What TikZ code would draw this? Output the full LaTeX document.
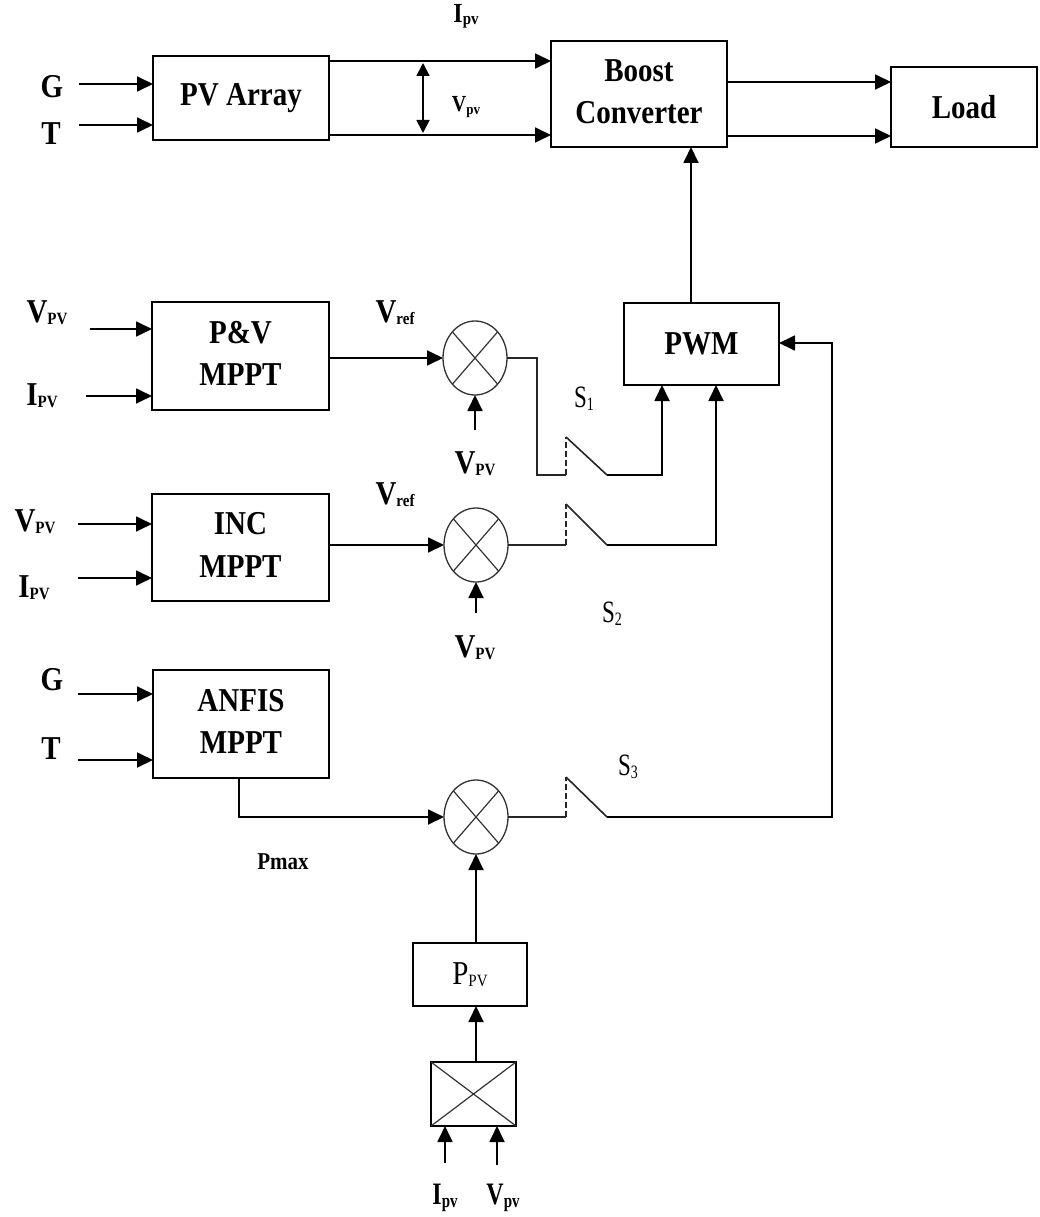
\documentclass[tikz,border=0pt]{standalone}
\usepackage{fontspec}
\setmainfont{Liberation Serif}
\usetikzlibrary{arrows.meta,shapes.geometric}
\newcommand\ys[2][1.15]{\scalebox{1}[#1]{#2}}
\newcommand\fs[1]{\fontsize{#1}{#1}\selectfont}
% main size, main text, sub size, sub text
\newcommand\lbl[5][1.15]{\ys[#1]{\bfseries\fs{#2}#3\raisebox{-2pt}{\fs{#4}#5}}}
\newcommand\rlbl[5][1.15]{\ys[#1]{\mdseries\fs{#2}#3\raisebox{-2pt}{\fs{#4}#5}}}
\newcommand\two[2]{\ys{\bfseries\fontsize{29}{37}\selectfont\begin{tabular}{@{}c@{}}#1\\#2\end{tabular}}}
\newcommand\one[1]{\ys{\bfseries\fs{29}#1}}
\begin{document}
\begin{tikzpicture}[x=1pt,y=-1pt,
  box/.style={draw, line width=1.8pt, inner sep=0pt, outer sep=0pt, align=center},
  arr/.style={line width=1.8pt, -{Triangle[length=16pt,width=15pt]}},
  darr/.style={line width=1.8pt, {Triangle[length=13pt,width=13pt]}-{Triangle[length=13pt,width=13pt]}},
  ell/.style={ellipse, draw=black!80, line width=1.3pt, minimum width=64, minimum height=74, inner sep=0pt, outer sep=0pt},
  sw/.style={line width=1.6pt, draw=black!85},
  swd/.style={line width=1.6pt, draw=black!85, dash pattern=on 6pt off 3pt},
  lab/.style={inner sep=0pt}
]
\useasboundingbox (0,0) rectangle (1039,1217);
\fill[white] (0,0) rectangle (1039,1217);

% boxes
\node[box, minimum width=176, minimum height=84] (pv) at (241,98) {\one{PV Array}};
\node[box, minimum width=176, minimum height=106] (boost) at (639,94) {\two{Boost}{Converter}};
\node[box, minimum width=146, minimum height=80] (load) at (964,107) {\one{Load}};
\node[box, minimum width=155, minimum height=82] (pwm) at (701.5,344) {\one{PWM}};
\node[box, minimum width=177, minimum height=108] (po) at (240.5,356) {\two{P\&V}{MPPT}};
\node[box, minimum width=177, minimum height=107] (inc) at (240.5,547.5) {\two{INC}{MPPT}};
\node[box, minimum width=176, minimum height=108] (anf) at (241,724) {\two{ANFIS}{MPPT}};
\node[box, minimum width=114, minimum height=63] (ppv) at (470,974.5) {\rlbl{29}{P}{15}{PV}};
\node[box, minimum width=85, minimum height=64] (mul) at (473.5,1094) {};
\draw[line width=1.2pt, black!80] (mul.north west) -- (mul.south east) (mul.north east) -- (mul.south west);

% summing junctions
\foreach \n/\x/\y in {c1/475/358, c2/476/545, c3/476/817}{
  \node[ell] (\n) at (\x,\y) {};
  \draw[line width=1.2pt, black!80] (\n.north west) -- (\n.south east) (\n.north east) -- (\n.south west);
}

% top row
\coordinate (g1) at (79,84);
\coordinate (t1) at (79,125);
\draw[arr] (g1) -- (g1 -| pv.west);
\draw[arr] (t1) -- (t1 -| pv.west);
\node[lab] (gl1) at (52,87) {\one{G}};
\node[lab] (tl1) at (51,134) {\one{T}};
\draw[arr] (pv.east |- 0,61) -- (boost.west |- 0,61);
\draw[arr] (pv.east |- 0,135) -- (boost.west |- 0,135);
\draw[darr] (423,63) -- (423,133);
\node[lab] (ipvt) at (466,16) {\lbl{24}{I}{15}{pv}};
\node[lab] (vpvt) at (466,107) {\lbl{20}{V}{13}{pv}};
\draw[arr] (boost.east |- 0,82) -- (load.west |- 0,82);
\draw[arr] (boost.east |- 0,136) -- (load.west |- 0,136);
\draw[arr] (pwm.north -| 691,0) -- (boost.south -| 691,0);

% P&V
\coordinate (v1) at (90,329);
\coordinate (i1) at (86,396);
\draw[arr] (v1) -- (v1 -| po.west);
\draw[arr] (i1) -- (i1 -| po.west);
\node[lab] (v1l) at (47,313) {\lbl{29}{V}{15}{PV}};
\node[lab] (i1l) at (42,396) {\lbl{29}{I}{15}{PV}};
\draw[arr] (po.east |- c1.west) -- (c1.west);
\node[lab] (vr1) at (395,313) {\lbl{29}{V}{15}{ref}};
\coordinate (vp1) at (475,430);
\draw[arr] (vp1) -- (c1.south);
\node[lab] (vp1l) at (475,464) {\lbl{29}{V}{15}{PV}};
\draw[sw] (c1.east) -- (537,358) -- (537,475) -- (566,475);
\draw[swd] (566,475) -- (566,437);
\draw[sw] (566,437) -- (607,475);
\draw[arr] (607,475) -- (662,475) -- (pwm.south -| 662,0);
\node[lab] (s1) at (584,399) {\rlbl[1.35]{23}{S}{14}{1}};

% INC
\coordinate (v2) at (78,524);
\coordinate (i2) at (78,578);
\draw[arr] (v2) -- (v2 -| inc.west);
\draw[arr] (i2) -- (i2 -| inc.west);
\node[lab] (v2l) at (35,522) {\lbl{29}{V}{15}{PV}};
\node[lab] (i2l) at (34,588) {\lbl{29}{I}{15}{PV}};
\draw[arr] (inc.east |- c2.west) -- (c2.west);
\node[lab] (vr2) at (395,495) {\lbl{29}{V}{15}{ref}};
\coordinate (vp2) at (476,613);
\draw[arr] (vp2) -- (c2.south);
\node[lab] (vp2l) at (475,648) {\lbl{29}{V}{15}{PV}};
\draw[sw] (c2.east) -- (566,545);
\draw[swd] (566,545) -- (566,504);
\draw[sw] (566,504) -- (607,545);
\draw[arr] (607,545) -- (716,545) -- (pwm.south -| 716,0);
\node[lab] (s2) at (612,614) {\rlbl[1.35]{23}{S}{14}{2}};

% ANFIS
\coordinate (g3) at (78,694);
\coordinate (t3) at (78,760);
\draw[arr] (g3) -- (g3 -| anf.west);
\draw[arr] (t3) -- (t3 -| anf.west);
\node[lab] (gl3) at (52,680) {\one{G}};
\node[lab] (tl3) at (51,749) {\one{T}};
\draw[arr] (anf.south -| 239,0) -- (239,817) -- (c3.west);
\node[lab] (pmax) at (283,862) {\ys{\bfseries\fs{21}Pmax}};
\draw[sw] (c3.east) -- (566,817);
\draw[swd] (566,817) -- (566,777);
\draw[sw] (566,777) -- (607,817);
\draw[arr] (607,817) -- (832,817) -- (832,343) -- (pwm.east |- 0,343);
\node[lab] (s3) at (628,767) {\rlbl[1.35]{23}{S}{14}{3}};

% power computation
\draw[arr] (ppv.north -| 476,0) -- (c3.south);
\draw[arr] (mul.north -| 476,0) -- (ppv.south -| 476,0);
\coordinate (ib) at (445,1163);
\coordinate (vb) at (497,1165);
\draw[arr] (ib) -- (ib |- mul.south);
\draw[arr] (vb) -- (vb |- mul.south);
\node[lab] (ibl) at (445,1198) {\lbl[1.3]{24}{I}{15}{pv}};
\node[lab] (vbl) at (503,1198) {\lbl[1.3]{24}{V}{15}{pv}};
\end{tikzpicture}
\end{document}
